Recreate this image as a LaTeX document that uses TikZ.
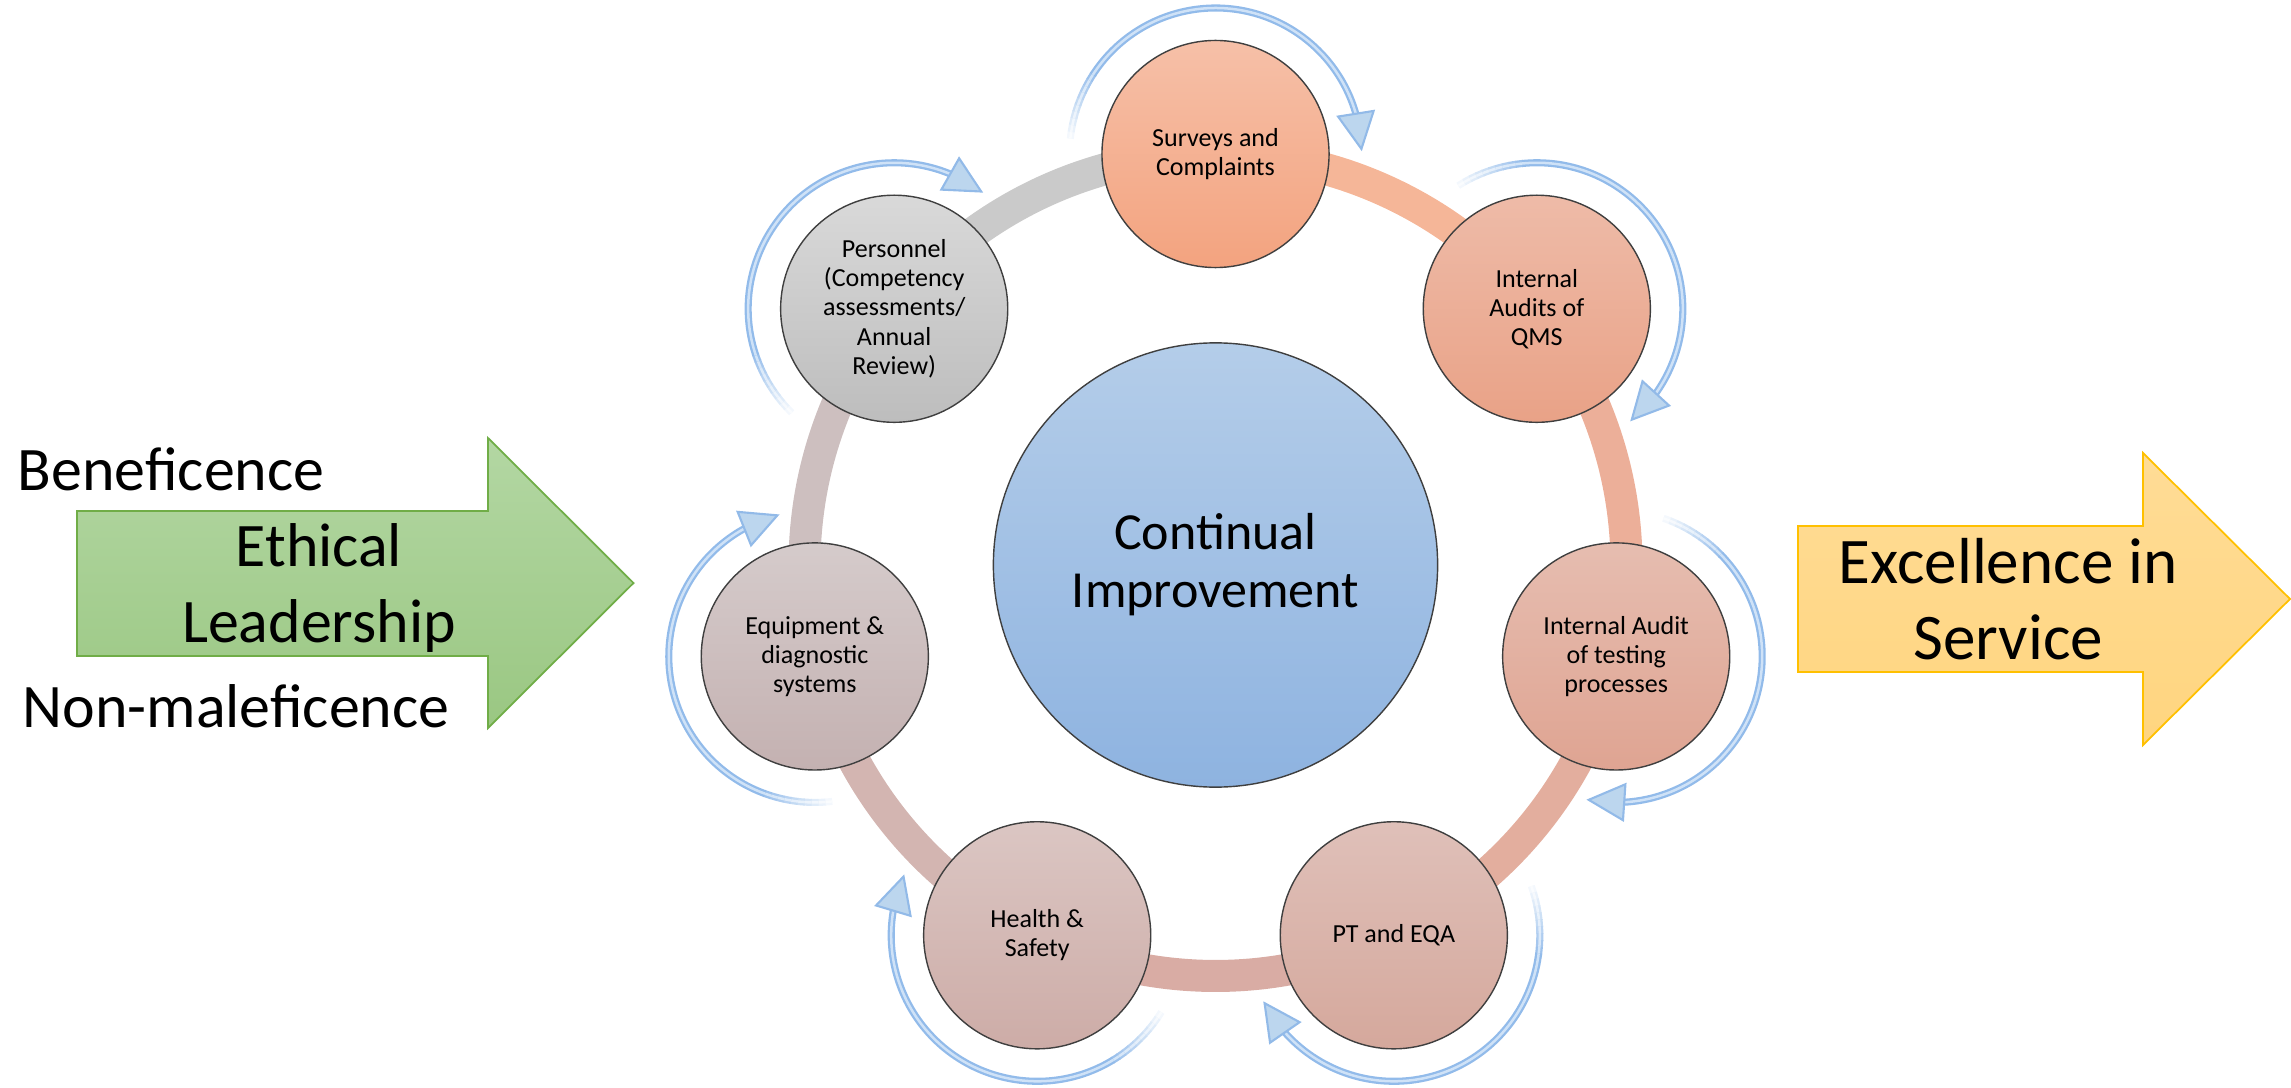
\documentclass[tikz,border=0pt]{standalone}
\usepackage{fontspec}
\setmainfont{Carlito}
\usetikzlibrary{calc,backgrounds}

% stage colours (top / bottom of the vertical gradient)
\definecolor{circEdge}{HTML}{3F3F3F}
\definecolor{svTop}{HTML}{F6C0A8}\definecolor{svBot}{HTML}{F3A37F}
\definecolor{qmTop}{HTML}{EEBBA8}\definecolor{qmBot}{HTML}{E9A287}
\definecolor{tsTop}{HTML}{E6BDB0}\definecolor{tsBot}{HTML}{DFA492}
\definecolor{ptTop}{HTML}{DFC0B9}\definecolor{ptBot}{HTML}{D5A89C}
\definecolor{hsTop}{HTML}{DBC6C3}\definecolor{hsBot}{HTML}{CDACA7}
\definecolor{eqTop}{HTML}{D5CBCB}\definecolor{eqBot}{HTML}{C4B1B1}
\definecolor{peTop}{HTML}{D9D9D9}\definecolor{peBot}{HTML}{BDBDBD}
\definecolor{ciTop}{HTML}{B4CDE9}\definecolor{ciBot}{HTML}{8EB3E0}
% ring segments
\definecolor{segSQ}{HTML}{F5B698}
\definecolor{segQT}{HTML}{ECAF99}
\definecolor{segTP}{HTML}{E3AE9E}
\definecolor{segPH}{HTML}{D9ACA4}
\definecolor{segHE}{HTML}{D3B5B1}
\definecolor{segEP}{HTML}{CDBFBF}
\definecolor{segPS}{HTML}{CACACA}
% loop arrows
\definecolor{blueEdge}{HTML}{92BBEA}
\definecolor{blueFill}{HTML}{CFE2F7}
\definecolor{headFill}{HTML}{BCD6EE}
\definecolor{headEdge}{HTML}{92BAE8}
% side arrows
\definecolor{grTop}{HTML}{B3D7A3}\definecolor{grBot}{HTML}{9AC782}\definecolor{grEdge}{HTML}{70AD47}
\definecolor{yeTop}{HTML}{FFDC96}\definecolor{yeBot}{HTML}{FFD57F}\definecolor{yeEdge}{HTML}{FFC000}

% circular arrow around a stage: #1 = node name, #2 = its angle on the ring
\newcommand\loopArrow[2]{%
  \foreach \i in {0,...,9}{%
    \pgfmathsetmacro\aa{#2+84-2.7*\i}%
    \pgfmathtruncatemacro\pp{10+9*\i}%
    \draw[loopline, draw=blueEdge!\pp!white, double=blueFill!\pp!white]
      ($(#1)+(\aa:146)$) arc[start angle=\aa, delta angle=-3, radius=146];
  }%
  \pgfmathsetmacro\sa{#2+57.2}%
  \pgfmathsetmacro\ea{#2-74}%
  \pgfmathsetmacro\ta{#2-88}%
  \draw[loopline] ($(#1)+(\sa:146)$) arc[start angle=\sa, end angle=\ea, radius=146];
  \coordinate (#1-b) at ($(#1)+(\ea:146)$);
  \coordinate (#1-t) at ($(#1)+(\ta:146)$);
  \filldraw[loophead] (#1-t) -- ($(#1-b)!0.18cm!90:(#1-t)$)
    -- ($(#1-b)!0.18cm!-90:(#1-t)$) -- cycle;
}

\begin{document}
\begin{tikzpicture}[x=0.01cm,y=0.01cm,
  stage/.style={circle, draw=circEdge, line width=0.4pt, minimum size=2.27cm,
    inner sep=0pt, align=center, font=\fontsize{7.4pt}{8.25pt}\selectfont},
  hubstage/.style={circle, draw=circEdge, line width=0.4pt, minimum size=4.44cm,
    inner sep=0pt, align=center, font=\fontsize{14.8pt}{16.5pt}\selectfont},
  ringseg/.style={line width=0.32cm},
  loopline/.style={line width=0.023cm, double distance=0.025cm,
    draw=blueEdge, double=blueFill},
  loophead/.style={fill=headFill, draw=headEdge, line width=0.6pt, line join=miter},
  sidetext/.style={inner sep=0pt, align=center, font=\fontsize{17.6pt}{21.6pt}\selectfont},
  exctext/.style={inner sep=0pt, align=center, font=\fontsize{18.5pt}{21.5pt}\selectfont},
]
\useasboundingbox (0,0) rectangle (2291,1087);

\coordinate (hub) at (1215.5,522);

% central circle
\node[hubstage, top color=ciTop, bottom color=ciBot] (ci) at (hub) {Continual\\Improvement};

% the seven stages on the ring
\node[stage, top color=svTop, bottom color=svBot] (sv) at ($(hub)+(90:411)$) {Surveys and\\Complaints};
\node[stage, top color=qmTop, bottom color=qmBot] (qm) at ($(hub)+(38.571:411)$) {Internal\\Audits of\\QMS};
\node[stage, top color=tsTop, bottom color=tsBot] (ts) at ($(hub)+(-12.857:411)$) {Internal Audit\\of testing\\processes};
\node[stage, top color=ptTop, bottom color=ptBot] (pt) at ($(hub)+(-64.286:411)$) {PT and EQA};
\node[stage, top color=hsTop, bottom color=hsBot] (hs) at ($(hub)+(-115.714:411)$) {Health \&\\Safety};
\node[stage, top color=eqTop, bottom color=eqBot] (eq) at ($(hub)+(-167.143:411)$) {Equipment \&\\diagnostic\\systems};
\node[stage, top color=peTop, bottom color=peBot] (pe) at ($(hub)+(141.429:411)$) {Personnel\\(Competency\\assessments/\\Annual\\Review)};

% ring connecting the stages
\begin{scope}[on background layer]
  \foreach \from/\to/\col [count=\k] in
    {sv/qm/segSQ, qm/ts/segQT, ts/pt/segTP, pt/hs/segPH, hs/eq/segHE, eq/pe/segEP, pe/sv/segPS}{
    \pgfmathsetmacro\st{90-51.4286*(\k-1)}
    \draw[ringseg, draw=\col] (\from.center) arc[start angle=\st, delta angle=-51.4286, radius=411];
  }
\end{scope}

% circular arrows around each stage
\loopArrow{sv}{90}
\loopArrow{qm}{38.571}
\loopArrow{ts}{-12.857}
\loopArrow{pt}{-64.286}
\loopArrow{hs}{-115.714}
\loopArrow{eq}{-167.143}
\loopArrow{pe}{141.429}

% incoming arrow
\path[draw=grEdge, line width=0.5pt, top color=grTop, bottom color=grBot]
  (77,576) -- (488,576) -- (488,649) -- (633.5,504) -- (488,359) -- (488,431) -- (77,431) -- cycle;
\node[sidetext, anchor=base] (benef) at (171,597) {Beneficence};
\node[sidetext, anchor=base] (nonmal) at (236,360) {Non-maleficence};
\node[sidetext] (ethic) at (319,499) {Ethical\\Leadership};

% outgoing arrow
\path[draw=yeEdge, line width=0.5pt, top color=yeTop, bottom color=yeBot]
  (1798,561) -- (2143,561) -- (2143,634) -- (2290,488) -- (2143,342) -- (2143,415) -- (1798,415) -- cycle;
\node[exctext] (excel) at (2008,488) {Excellence in\\Service};
\end{tikzpicture}
\end{document}
